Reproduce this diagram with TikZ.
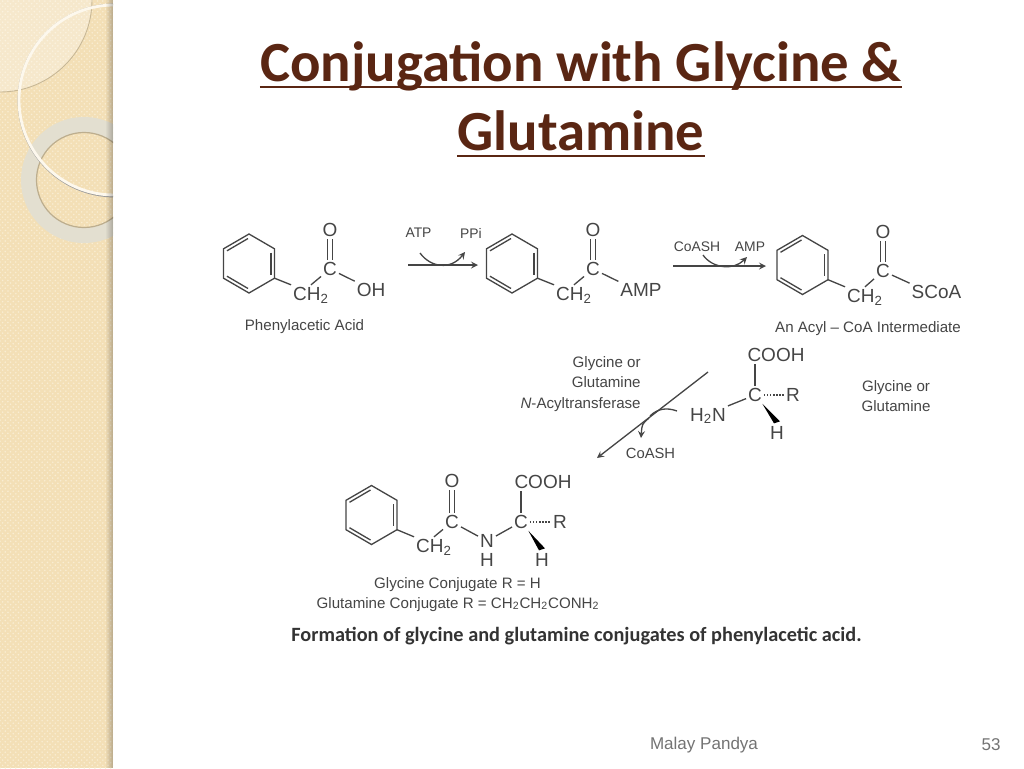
\documentclass[tikz,border=0pt]{standalone}
\usepackage{fontspec}
\setmainfont{Liberation Sans}
\newfontfamily\titlefont{Carlito}
\usetikzlibrary{arrows,calc,patterns}

\definecolor{inkgrey}{HTML}{454545}
\definecolor{titlebrown}{HTML}{5A2613}
\definecolor{paneltan}{HTML}{F3DFB6}
\definecolor{paneldot}{HTML}{F9EDD2}
\definecolor{ringgrey}{HTML}{E3DFD0}

\tikzset{
    bond/.style={draw=inkgrey, line width=.75pt},
    dbond/.style={bond, double=white, double distance=1.9pt, line width=.55pt},
    rxn/.style={bond, -stealth},
    atom/.style={text=inkgrey, inner sep=1pt, font=\fontsize{10.8}{10.8}\selectfont},
    lab/.style={text=inkgrey, inner sep=0pt, anchor=base, font=\fontsize{8.6}{8.6}\selectfont},
    small/.style={text=inkgrey, inner sep=0pt, font=\fontsize{7.9}{7.9}\selectfont},
    headline/.style={text=titlebrown, inner sep=0pt, anchor=base, font=\titlefont\bfseries\fontsize{32.3}{32.3}\selectfont},
    titlerule/.style={draw=titlebrown, line width=1.7pt},
    foot/.style={text=black!55, inner sep=0pt, font=\fontsize{9.7}{9.7}\selectfont}
}

% ring at (#2,#3), the corner the side chain leaves from is (#1)
\newcommand{\phenyl}[3]{
    \draw[bond] (#2,#3-29.5) -- (#2+25.5,#3-14.7) -- (#2+25.5,#3+14.7) -- (#2,#3+29.5)
        -- (#2-25.5,#3+14.7) -- (#2-25.5,#3-14.7) -- cycle;
    \draw[bond] (#2-22,#3-12.7) -- (#2-1,#3-25);
    \draw[bond] (#2+22,#3-11) -- (#2+22,#3+11);
    \draw[bond] (#2-22,#3+12.7) -- (#2-1,#3+25);
    \coordinate (#1) at (#2+25.5,#3+14.7);
}

\begin{document}
\begin{tikzpicture}[x=.02cm,y=-.02cm]
    \useasboundingbox (0,0) rectangle (1024,768);

    % left band
    \fill[paneltan] (0,0) rectangle (113,768);
    \fill[pattern=crosshatch dots, pattern color=paneldot] (0,0) rectangle (113,768);
    \begin{scope}
        \clip (0,0) rectangle (113,768);
        \fill[white, fill opacity=.3] (0,0) -- (92,0) arc (0:90:92) -- cycle;
        \draw[black!18!paneltan, line width=.5pt] (92,0) arc (0:90:92);
        \fill[ringgrey, even odd rule] (84,180) circle (63) (84,180) circle (47.5);
        \draw[black!22!paneltan, line width=.7pt] (84,180) circle (47.5);
        \draw[black!40, line width=1pt] (114.5,100.5) circle (96);
        \draw[paneldot!40!white, line width=1.6pt] (114,100) circle (95);
        \foreach \i in {0,...,7}
            \fill[black, fill opacity=.03*\i] (105+\i,0) rectangle (106+\i,768);
    \end{scope}

    % title
    \node[headline] (title1) at (581,81) {Conjugation with Glycine \&};
    \node[headline] (title2) at (581,150) {Glutamine};
    \draw[titlerule] ($(title1.base west)+(0,6)$) -- ($(title1.base east)+(0,6)$);
    \draw[titlerule] ($(title2.base west)+(0,6)$) -- ($(title2.base east)+(0,6)$);

    % phenylacetic acid
    \phenyl{ra}{249}{263.5}
    \node[atom] (oa) at (330,230) {O};
    \node[atom] (ca) at (330,269) {C};
    \node[atom] (cha) at (311,295) {CH\textsubscript{2}};
    \node[atom] (oh) at (371,290) {OH};
    \node[lab] (laba) at (304.5,330) {Phenylacetic Acid};
    \draw[dbond] (ca) -- (oa);
    \draw[bond] (ra) -- (cha.north west);
    \draw[bond] (cha.north) -- (ca);
    \draw[bond] (ca) -- (oh.north west);

    % first arrow
    \node[small] (atp) at (418.5,233) {ATP};
    \node[small] (ppi) at (471,233) {PPi};
    \coordinate (sa) at (408,265);
    \coordinate (ea) at (478,265);
    \coordinate (ua) at (420,253);
    \coordinate (va) at (465,252);
    \draw[rxn] (sa) -- (ea);
    \draw[rxn] (ua) .. controls (431,268) and (451,270) .. (va);

    % AMP ester
    \phenyl{rb}{512}{263.5}
    \node[atom] (ob) at (593,230) {O};
    \node[atom] (cb) at (593,269) {C};
    \node[atom] (chb) at (574,295) {CH\textsubscript{2}};
    \node[atom] (amp) at (641,290) {AMP};
    \draw[dbond] (cb) -- (ob);
    \draw[bond] (rb) -- (chb.north west);
    \draw[bond] (chb.north) -- (cb);
    \draw[bond] (cb) -- (amp.north west);

    % second arrow
    \node[small] (coash) at (697,247) {CoASH};
    \node[small] (ampb) at (750,247) {AMP};
    \coordinate (sb) at (673,266);
    \coordinate (eb) at (766,266);
    \coordinate (ub) at (703,255);
    \coordinate (vb) at (747,257);
    \draw[rxn] (sb) -- (eb);
    \draw[rxn] (ub) .. controls (712,268) and (733,271) .. (vb);

    % acyl CoA
    \phenyl{rc}{802.5}{265}
    \node[atom] (oc) at (883,232) {O};
    \node[atom] (cc) at (883,271) {C};
    \node[atom] (chc) at (865,297) {CH\textsubscript{2}};
    \node[atom] (scoa) at (936.5,292) {SCoA};
    \node[lab] (labc) at (868,332) {An Acyl -- CoA Intermediate};
    \draw[dbond] (cc) -- (oc);
    \draw[bond] (rc) -- (chc.north west);
    \draw[bond] (chc.north) -- (cc);
    \draw[bond] (cc) -- (scoa.north west);

    % enzyme
    \node[lab, anchor=base east] (enza) at (641,367) {Glycine or};
    \node[lab, anchor=base east] (enzb) at (641,387) {Glutamine};
    \node[lab, anchor=base east] (enzc) at (641,408) {\textit{N}-Acyltransferase};
    \coordinate (sc) at (708,372);
    \coordinate (ec) at (597,458);
    \coordinate (uc) at (677,411);
    \coordinate (mc) at (650,416);
    \draw[rxn] (sc) -- (ec);
    \draw[bond] (uc) .. controls (666,407) and (657,409) .. (mc);
    \node[small, font=\fontsize{8.4}{8.4}\selectfont] (coashb) at (650.5,453) {CoASH};
    \coordinate (wc) at (649,418);
    \coordinate (vc) at (641,438);
    \draw[rxn] (wc) .. controls (642,424) .. (vc);

    % amino acid
    \node[atom] (cooh) at (776,355) {COOH};
    \node[atom] (cd) at (755,395) {C};
    \node[atom] (rd) at (793,395) {R};
    \node[atom] (hn) at (708,416) {H\textsubscript{2}N};
    \node[atom] (hd) at (777,433) {H};
    \draw[bond] (cd) -- (cd|-cooh.south);
    \draw[bond, densely dotted] (cd) -- (rd);
    \draw[bond] (cd) -- (hn.north east);
    \fill[black] (cd.-50) -- ($(hd.north)+(-3,-1)$) -- ($(hd.north)+(3,-3)$) -- cycle;
    \node[lab] (gla) at (896,391) {Glycine or};
    \node[lab] (glb) at (896,411) {Glutamine};

    % conjugate
    \phenyl{re}{371.5}{515}
    \node[atom] (oe) at (452,481) {O};
    \node[atom] (ce) at (452,522) {C};
    \node[atom] (che) at (434,547) {CH\textsubscript{2}};
    \node[atom] (ne) at (487,541) {N};
    \node[atom] (hne) at (487,560) {H};
    \node[atom] (cf) at (521,522) {C};
    \node[atom] (coohb) at (543,482) {COOH};
    \node[atom] (rf) at (560,522) {R};
    \node[atom] (hf) at (542,560) {H};
    \draw[dbond] (ce) -- (oe);
    \draw[bond] (re) -- (che.north west);
    \draw[bond] (che.north) -- (ce);
    \draw[bond] (ce) -- (ne);
    \draw[bond] (ne) -- (cf);
    \draw[bond] (cf) -- (cf|-coohb.south);
    \draw[bond, densely dotted] (cf) -- (rf);
    \fill[black] (cf.-50) -- ($(hf.north)+(-3,-1)$) -- ($(hf.north)+(3,-3)$) -- cycle;
    \node[lab] (labe) at (457.5,588) {Glycine Conjugate R = H};
    \node[lab] (labf) at (458,608) {Glutamine Conjugate R = CH\textsubscript{2}CH\textsubscript{2}CONH\textsubscript{2}};

    % caption and footer
    \node[text=black!80, inner sep=0pt, anchor=base, font=\titlefont\bfseries\fontsize{11.55}{11.55}\selectfont] (caption) at (576.5,641)
        {Formation of glycine and glutamine conjugates of phenylacetic acid.};
    \node[foot] (author) at (704,745) {Malay Pandya};
    \node[foot] (page) at (991,745) {53};
\end{tikzpicture}
\end{document}
